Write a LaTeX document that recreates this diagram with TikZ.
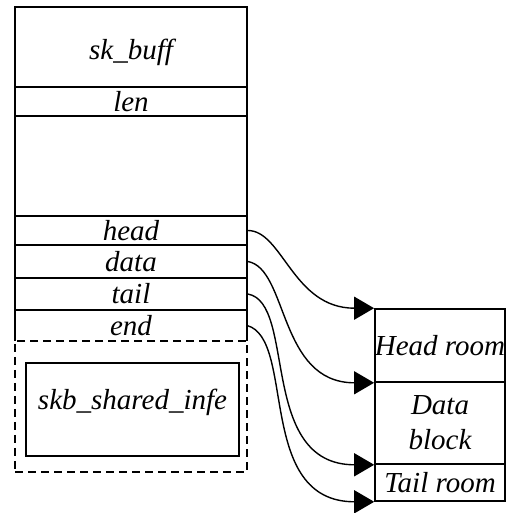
\documentclass[tikz,border=0pt]{standalone}
\usepackage{fontspec}
\setmainfont{Liberation Serif}
\usetikzlibrary{arrows.meta}
\tikzset{
  field/.style={draw, line width=0.8pt, minimum width=116pt, inner sep=0pt, font=\fontsize{14.5}{17.5}\selectfont\itshape},
  room/.style={draw, line width=0.8pt, minimum width=65pt, inner sep=0pt, align=center, font=\fontsize{14.5}{17.5}\selectfont\itshape},
  ptr/.style={-{Triangle[length=10pt,width=11.5pt]}, line width=0.7pt, out looseness=0.6, in looseness=1.4}
}
\begin{document}
\begin{tikzpicture}[x=0.5pt,y=-0.5pt]
\useasboundingbox (0,0) rectangle (526,513);
% sk_buff structure
\node[field, minimum height=40pt](skbuff)at(131,47){\rule{0pt}{16pt}sk\_buff};
\node[field, minimum height=14.5pt](len)at(131,101.5){len};
\node[field, minimum height=50pt](blank)at(131,166){};
\node[field, minimum height=14.5pt](head)at(131,230.5){head};
\node[field, minimum height=16.5pt](data)at(131,261.5){data};
\node[field, minimum height=16pt](tail)at(131,294){tail};
\node[field, draw=none, outer sep=0pt, minimum height=15.5pt](end)at(131,325.5){end};
\draw[line width=0.8pt](end.south west)|-(end.north east)--(end.south east);
% shared info
\node[field, dash pattern=on 4pt off 2.5pt, minimum height=65.5pt](shared)at(131,406.5){};
\node[field, minimum width=106.5pt, minimum height=46.5pt](info)at(132.5,409.5){skb\_shared\_infe\rule[-10pt]{0pt}{0pt}};
% data buffer
\node[room, minimum height=36.5pt](hroom)at(440,345.5){Head room};
\node[room, minimum height=41pt](dblock)at(440,423){Data\\block};
\node[room, minimum height=18.5pt](troom)at(440,482.5){Tail room};
% pointers
\draw[ptr](head.east)to[out=0,in=180](hroom.north west);
\draw[ptr](data.east)to[out=-10,in=180](hroom.south west);
\draw[ptr](tail.east)to[out=-10,in=180](dblock.south west);
\draw[ptr](end.east)to[out=-15,in=180](troom.south west);
\end{tikzpicture}
\end{document}
